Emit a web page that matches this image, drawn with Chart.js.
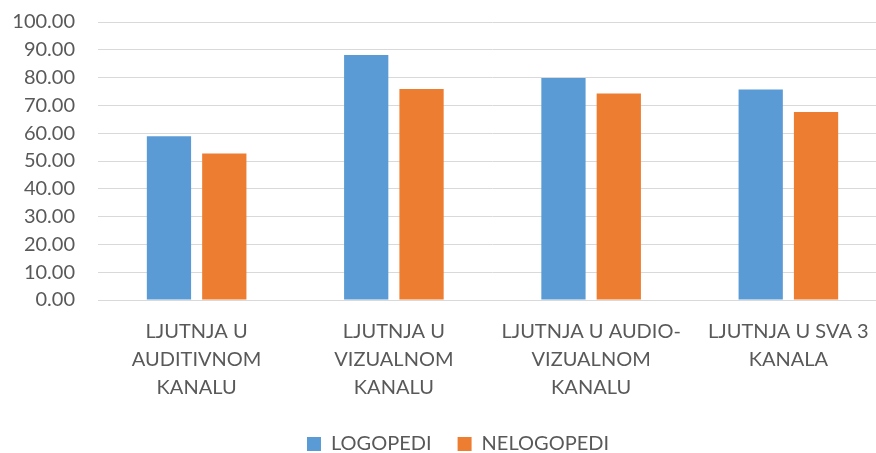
<!DOCTYPE html>
<html><head><meta charset="utf-8">
<script src="https://cdn.jsdelivr.net/npm/chart.js@4.4.0/dist/chart.umd.min.js"></script>
<style>html,body{margin:0;padding:0;background:#fff;overflow:hidden;width:876px;height:453px}</style>
</head><body>
<canvas id="c" width="916" height="464"></canvas>
<script>
const categories = [
  ["LJUTNJA U","AUDITIVNOM","KANALU"],
  ["LJUTNJA U","VIZUALNOM","KANALU"],
  ["LJUTNJA U AUDIO-","VIZUALNOM","KANALU"],
  ["LJUTNJA U SVA 3","KANALA"]
];
const seriesNames = ["LOGOPEDI","NELOGOPEDI"];
const logopedi = [58.9, 88.1, 79.9, 75.7];
const nelogopedi = [52.7, 75.9, 74.3, 67.6];
const yTickMin = 0, yTickMax = 100, yTickStep = 10;

const grey = '#595959';
const font = {family:'Lato', size:20};
const legendShift = {
  id:'legendShift',
  afterLayout(chart){ if(chart.legend){ chart.legend.left += 14.5; chart.legend.right += 14.5; } }
};
new Chart(document.getElementById('c'), {
  type:'bar',
  data:{
    labels:categories,
    datasets:[
      {label:seriesNames[0], data:logopedi, backgroundColor:'#5B9BD5', borderWidth:0},
      {label:seriesNames[1], data:nelogopedi, backgroundColor:'#ED7D31', borderWidth:0}
    ]
  },
  plugins:[legendShift],
  options:{
    responsive:false, animation:false, devicePixelRatio:1,
    layout:{padding:{top:22,right:29,bottom:0,left:0}},
    datasets:{bar:{categoryPercentage:0.561, barPercentage:0.8}},
    plugins:{
      tooltip:{enabled:false},
      legend:{position:'bottom',
        labels:{color:grey, font:font, boxWidth:14, boxHeight:14, padding:26}}
    },
    scales:{
      x:{
        grid:{display:false, drawTicks:false},
        border:{display:true, color:'#d9d9d9', width:1},
        ticks:{color:grey, font:{family:'Lato', size:20, lineHeight:1.4}, maxRotation:0, autoSkip:false, padding:18},
        afterFit:s=>{s.height=108;}
      },
      y:{
        min:yTickMin, max:yTickMax,
        grid:{color:'#d9d9d9', drawTicks:false},
        border:{display:false},
        ticks:{stepSize:yTickStep, autoSkip:false, color:grey, font:font, padding:23,
          callback:v=>Number(v).toFixed(2)},
        afterFit:s=>{s.width=98; s.paddingTop=0; s.paddingBottom=0;}
      }
    }
  }
});
</script>
</body></html>
